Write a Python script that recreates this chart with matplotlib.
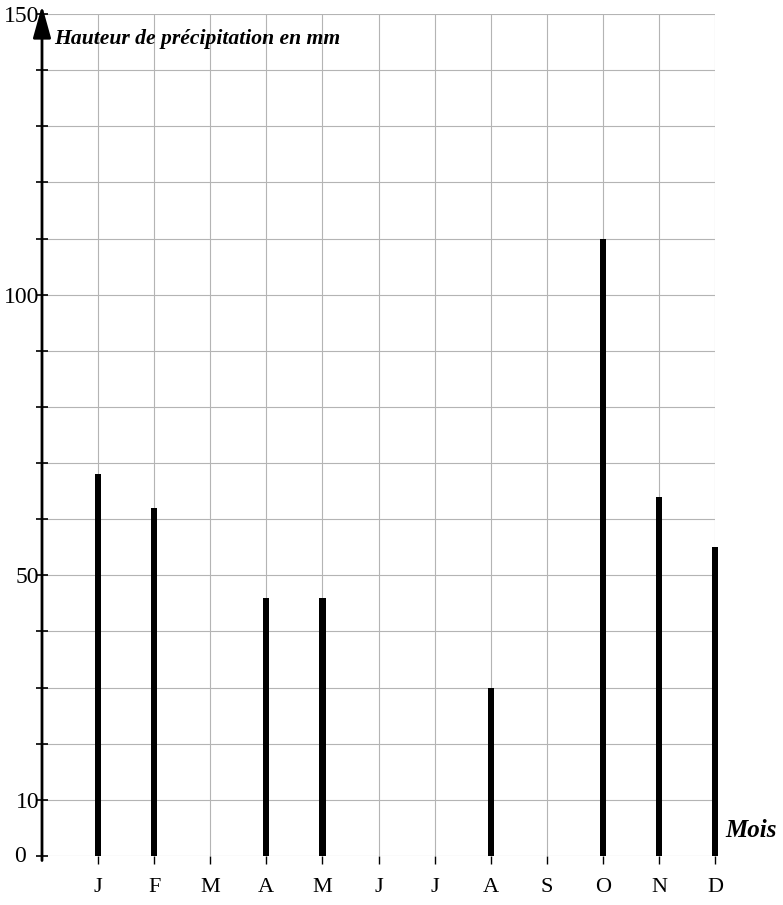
import numpy as np
import matplotlib.pyplot as plt

# Hauteur de précipitation par mois (mm)
mois = ['J', 'F', 'M', 'A', 'M', 'J', 'J', 'A', 'S', 'O', 'N', 'D']
pluie = [68, 62, 0, 46, 46, 0, 0, 30, 0, 110, 64, 55]
y_ticks = list(range(0, 151, 10))
y_labels = {10: '10', 50: '50', 100: '100', 150: '150'}

plt.rcParams['font.family'] = ['Liberation Serif', 'DejaVu Serif']

fig = plt.figure(figsize=(7.83, 9.05), dpi=100)
ax = fig.add_axes([42 / 783, 49 / 905, 673 / 783, 842 / 905])

x = np.arange(1, len(mois) + 1)
ax.bar(x, pluie, width=0.11, color='black', zorder=3, clip_on=False)

ax.set_xlim(0, 12)
ax.set_ylim(0, 150)
ax.set_xticks(x)
ax.set_xticklabels(mois, fontsize=16)
ax.set_yticks(y_ticks)
ax.set_yticklabels([y_labels.get(v, '') for v in y_ticks], fontsize=17)

# le "0" est un peu décalé vers la gauche
ax.text(-28 / 673, 0, '0', fontsize=17, ha='left', va='center',
        transform=ax.get_yaxis_transform(), clip_on=False)

ax.grid(True, color='#b4b4b4', linewidth=0.8, zorder=0)
ax.set_axisbelow(True)
for s in ax.spines.values():
    s.set_visible(False)

ax.tick_params(axis='y', direction='inout', length=8, width=1.2, color='black', pad=-2)
ax.tick_params(axis='x', direction='out', length=6, width=1, color='black', pad=10)

# axe vertical avec flèche
ax.annotate('', xy=(0, 152), xytext=(0, -1.3), annotation_clip=False,
            arrowprops=dict(arrowstyle='-|>,head_length=0.9,head_width=0.25',
                            lw=2, color='black', mutation_scale=22))

ax.text(0.22, 145.5, 'Hauteur de précipitation en mm', fontsize=15.6,
        fontweight='bold', fontstyle='italic', va='center', ha='left')
ax.text(12.18, 4.6, 'Mois', fontsize=18, fontweight='bold', fontstyle='italic',
        va='center', ha='left', clip_on=False)

fig.savefig('out.png', dpi=100)
